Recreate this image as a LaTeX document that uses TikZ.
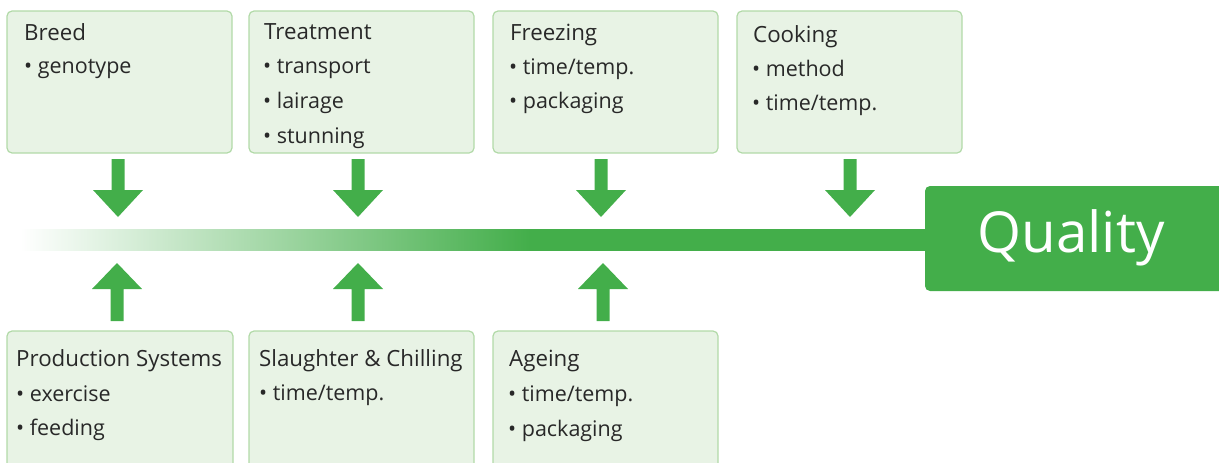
\documentclass[tikz,border=0pt]{standalone}
\usepackage{fontspec}
\setmainfont{Open Sans}
\usetikzlibrary{calc}
\definecolor{qgreen}{RGB}{67,174,74}
\definecolor{boxfill}{RGB}{232,243,229}
\definecolor{boxline}{RGB}{178,218,168}
\definecolor{txt}{RGB}{40,40,40}
\pgfdeclarehorizontalshading{barshade}{100bp}{color(0bp)=(white); color(25bp)=(white); color(53bp)=(qgreen); color(100bp)=(qgreen)}
\tikzset{
  fbox/.style={draw=boxline, fill=boxfill, line width=1.2pt, rounded corners=5pt},
  ttl/.style={anchor=base west, inner sep=0pt, text=txt, font=\fontsize{22.3}{26}\selectfont},
  itm/.style={anchor=base west, inner sep=0pt, text=txt, font=\fontsize{21.5}{25}\selectfont},
  arr/.style={fill=qgreen, draw=none}
}
\newcommand{\downarr}[1]{\fill[arr] (#1-6.5,159) -- (#1+6.5,159) -- (#1+6.5,190) -- (#1+25,190) -- (#1,217) -- (#1-25,190) -- (#1-6.5,190) -- cycle;}
\newcommand{\uparr}[1]{\fill[arr] (#1-6.5,321) -- (#1+6.5,321) -- (#1+6.5,289) -- (#1+25,289) -- (#1,263) -- (#1-25,289) -- (#1-6.5,289) -- cycle;}
\begin{document}
\begin{tikzpicture}[x=1pt,y=-1pt]
\useasboundingbox (0,0) rectangle (1219,463);
% bar
\shade[shading=barshade] (20,229) rectangle (930,250);
% quality
\fill[qgreen, rounded corners=5pt] (925,186) rectangle (1235,291);
\node[text=white, font=\fontsize{56.5}{64}\selectfont, inner sep=0pt] (q) at (1071,238) {Quality};
% top boxes
\draw[fbox] (7,11) rectangle (232,153);
\draw[fbox] (249,11) rectangle (474,153);
\draw[fbox] (493,11) rectangle (718,153);
\draw[fbox] (737,11) rectangle (962,153);
% bottom boxes
\draw[fbox] (7,331) rectangle (233,475);
\draw[fbox] (249,331) rectangle (474,475);
\draw[fbox] (493,331) rectangle (718,475);
% texts
\node[ttl] (t1) at (24,40) {Breed};
\node[itm] (t1a) at (24,73) {• genotype};
\node[ttl] (t2) at (264,39) {Treatment};
\node[itm] (t2a) at (263,73) {• transport};
\node[itm] (t2b) at (263,108) {• lairage};
\node[itm] (t2c) at (263,143) {• stunning};
\node[ttl] (t3) at (510,40) {Freezing};
\node[itm] (t3a) at (509,74) {• time/temp.};
\node[itm] (t3b) at (509,108) {• packaging};
\node[ttl] (t4) at (753,42) {Cooking};
\node[itm] (t4a) at (752,76) {• method};
\node[itm] (t4b) at (752,110) {• time/temp.};
\node[ttl] (b1t) at (16,366) {Production Systems};
\node[itm] (b1a) at (16,401) {• exercise};
\node[itm] (b1b) at (16,435) {• feeding};
\node[ttl] (b2t) at (259,366) {Slaughter \& Chilling};
\node[itm] (b2a) at (259,400) {• time/temp.};
\node[ttl] (b3t) at (509,366) {Ageing};
\node[itm] (b3a) at (508,401) {• time/temp.};
\node[itm] (b3b) at (508,436) {• packaging};
% arrows
\downarr{118}
\downarr{358}
\downarr{601}
\downarr{850}
\uparr{117}
\uparr{358}
\uparr{603}
\end{tikzpicture}
\end{document}
